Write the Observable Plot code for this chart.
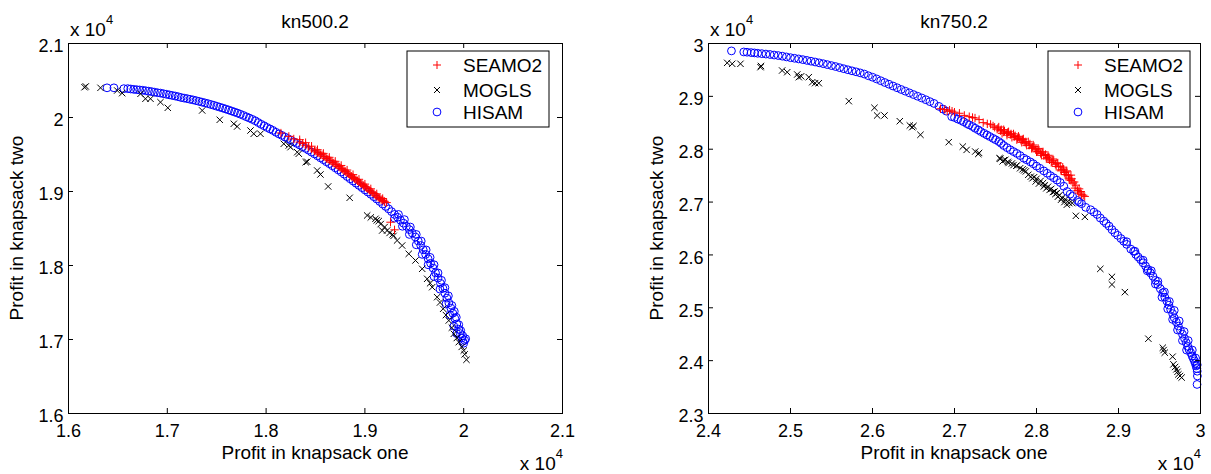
<!DOCTYPE html>
<html>
<head>
<meta charset="utf-8">
<script src="https://cdn.jsdelivr.net/npm/d3@7"></script>
<script src="https://cdn.jsdelivr.net/npm/@observablehq/plot@0.6"></script>
<style>
  html, body { margin: 0; padding: 0; background: #fff; }
  #wrap { position: relative; width: 1211px; height: 474px; background: #fff; overflow: hidden; }
  .panel { position: absolute; top: 0; }
</style>
</head>
<body>
<div id="wrap">
  <div class="panel" id="left" style="left:0px"></div>
  <div class="panel" id="right" style="left:605px"></div>
</div>
<script>
// ---------- tick values ----------
const ticksX500 = [16000, 17000, 18000, 19000, 20000, 21000];
const ticksY500 = [16000, 17000, 18000, 19000, 20000, 21000];
const ticksX750 = [24000, 25000, 26000, 27000, 28000, 29000, 30000];
const ticksY750 = [23000, 24000, 25000, 26000, 27000, 28000, 29000, 30000];

const seriesNames = ["SEAMO2", "MOGLS", "HISAM"];
const panelTitles = ["kn500.2", "kn750.2"];

// ---------- kn500.2 data [profit knapsack one, profit knapsack two] ----------
const kn500_SEAMO2 = [
[18150,19790],[18230,19745],[18280,19710],[18340,19668],[18340,19700],[18370,19650],[18400,19625],[18400,19660],
[18430,19600],[18460,19575],[18460,19612],[18490,19550],[18520,19525],[18520,19565],[18550,19498],[18580,19475],
[18580,19515],[18610,19446],[18640,19422],[18640,19462],[18670,19392],[18700,19368],[18700,19408],[18730,19338],
[18760,19312],[18760,19352],[18790,19280],[18820,19250],[18820,19290],[18850,19222],[18880,19190],[18880,19228],
[18910,19160],[18940,19128],[18940,19165],[18970,19098],[19000,19066],[19000,19100],[19030,19036],[19060,19004],
[19060,19036],[19090,18972],[19120,18938],[19120,18968],[19150,18910],[19180,18880],[19180,18905],[19200,18860],
[19220,18850],[19259,18585],[19300,18482],
[18505,19545],[18535,19520],[18565,19495],[18595,19470],[18625,19440],[18655,19415],[18685,19385],[18715,19360],
[18745,19330],[18775,19300],[18805,19270],[18835,19240],[18865,19205],[18895,19175],[18925,19145],[18955,19112],
[18985,19080],[19015,19050],[19045,19015],[19075,18985],[19105,18950],[19135,18920],[19165,18890],[19195,18870]
];
const kn500_MOGLS = [
[16162,20409],[16175,20420],[16324,20401],[16493,20365],[16543,20329],[16729,20320],[16779,20253],[16830,20253],
[16931,20207],[17005,20131],[17353,20095],[17531,19969],[17673,19915],[17707,19878],[17842,19824],[17875,19780],
[17943,19780],[18179,19645],[18230,19622],[18247,19599],[18315,19531],[18331,19510],[18401,19396],[18416,19402],
[18517,19284],[18550,19230],[18628,19068],[18846,18915],[19023,18676],[19060,18650],[19107,18631],[19120,18610],
[19140,18600],[19160,18560],[19175,18473],[19200,18520],[19225,18473],[19250,18440],[19280,18420],[19290,18400],
[19326,18338],[19377,18270],[19444,18158],[19512,18068],[19580,17955],[19630,17820],[19660,17760],[19681,17707],
[19731,17572],[19760,17500],[19792,17415],[19820,17330],[19849,17257],[19880,17160],[19900,17077],[19930,17020],
[19950,16964],[19980,16900],[20001,16851],[20010,16800],[20028,16726]
];
const kn500_HISAM = [
[16390,20401],[16460,20401],[16560,20390],[16600,20390],[16630,20385],[16660,20380],[16690,20376],[16720,20372],
[16750,20368],[16780,20362],[16810,20356],[16840,20350],[16870,20342],[16900,20335],[16930,20330],[16960,20322],
[16990,20314],[17020,20306],[17050,20298],[17080,20290],[17110,20281],[17140,20270],[17170,20262],[17200,20255],
[17230,20246],[17260,20238],[17290,20228],[17320,20218],[17350,20208],[17380,20198],[17410,20188],[17440,20176],
[17470,20165],[17500,20152],[17530,20140],[17560,20128],[17590,20115],[17620,20102],[17650,20088],[17680,20074],
[17710,20060],[17740,20044],[17770,20028],[17800,20010],[17830,19993],[17860,19975],[17890,19956],[17920,19932],
[17950,19908],[17980,19888],[18010,19865],[18040,19845],[18070,19825],[18100,19800],[18130,19778],[18160,19758],
[18190,19736],[18220,19715],[18250,19695],[18280,19672],[18310,19650],[18340,19628],[18370,19605],[18400,19582],
[18430,19558],[18460,19532],[18490,19508],[18520,19482],[18550,19455],[18580,19430],[18610,19402],[18640,19376],
[18670,19348],[18700,19320],[18730,19292],[18760,19264],[18790,19234],[18820,19202],[18850,19172],[18880,19142],
[18910,19112],[18940,19082],[18970,19052],[19000,19022],[19030,18992],[19060,18962],[19090,18930],[19120,18898],
[19150,18865],[19180,18830],[19210,18798],[19240,18765],[19270,18728],[19300,18690],[19330,18652],[19360,18612],
[19390,18572],[19420,18530],[19450,18485],[19480,18438],[19510,18385],[19540,18330],[19565,18270],[19590,18212],
[19615,18150],[19640,18090],[19665,18030],[19690,17965],[19715,17900],[19740,17830],[19765,17760],[19790,17690],
[19810,17625],[19830,17560],[19850,17495],[19870,17425],[19890,17355],[19910,17285],[19930,17210],[19950,17140],
[19965,17080],[19980,17020],[19990,16975],[20000,16950],
[19340,18690],[19400,18620],[19460,18520],[19520,18420],[19570,18330],[19620,18210],[19660,18110],[19700,18010],
[19740,17900],[19775,17800],[19810,17700],[19845,17590],[19880,17460],[19905,17380],[19925,17300],[19950,17200],
[19970,17120],[19990,17050],[20010,16990],[20020,17010],
[19300,18640],[19380,18530],[19450,18420],[19520,18280],[19580,18150],[19640,18010],[19700,17850],[19760,17680],
[19820,17480],[19860,17330],[19900,17180],[19930,17080]
];

// ---------- kn750.2 data ----------
const kn750_SEAMO2 = [
[26829,28765],[26880,28750],[26911,28720],[26940,28740],[26970,28720],[27000,28700],[27060,28680],[27120,28640],
[27180,28616],[27220,28600],[27250,28590],[27300,28560],[27350,28503],[27400,28480],[27440,28470],[27470,28440],
[27490,28415],
[27520,28380],[27560,28350],[27600,28325],[27640,28300],[27680,28275],[27729,28239],[27770,28205],[27810,28170],
[27850,28135],[27872,28113],[27910,28075],[27950,28035],[27990,27990],[28015,27956],[28050,27920],[28090,27880],
[28130,27840],[28158,27799],[28190,27760],[28230,27715],[28270,27670],[28301,27610],[28340,27560],[28370,27515],
[28397,27453],[28420,27410],[28445,27358],[28469,27264],[28500,27220],[28516,27170],[28550,27140],[28588,27107],
[27540,28420],[27600,28370],[27660,28330],[27720,28290],[27780,28245],[27840,28195],[27900,28140],[27960,28080],
[28020,28015],[28080,27950],[28140,27885],[28200,27815],[28260,27740],[28320,27660],[28370,27590],[28420,27510],
[27580,28300],[27640,28265],[27700,28225],[27760,28180],[27820,28130],[27880,28075],[27940,28015],[28000,27950],
[28060,27885],[28120,27820],[28180,27750],[28240,27675],[28300,27590],[28350,27520],[28400,27420],
[27530,28400],[27570,28370],[27610,28345],[27650,28318],[27690,28290],[27740,28255],[27790,28215],[27830,28180],
[27870,28140],[27920,28100],[27970,28050],[28030,27985],[28070,27945],[28110,27900],[28150,27855],[28210,27790],
[28250,27735],[28290,27680],[28330,27620],[28360,27570],[28390,27500],[28430,27440],[28460,27380],[28480,27320],
[28520,27250],[28540,27200],[28570,27130]
];
const kn750_MOGLS = [
[24228,29634],[24289,29616],[24390,29616],[24634,29552],[24640,29575],[24898,29489],[24960,29457],[25082,29414],
[25101,29363],[25130,29380],[25223,29363],[25265,29268],[25300,29250],[25345,29249],[25711,28909],[26024,28784],
[26057,28638],[26146,28638],[26333,28530],[26455,28449],[26484,28417],[26500,28440],[26585,28273],[26930,28133],
[27101,28050],[27148,27987],[27253,27956],[27290,27910],[27300,27930],[27548,27830],[27560,27820],[27587,27770],
[27600,27790],[27620,27800],[27650,27760],[27660,27740],[27700,27730],[27720,27700],[27753,27686],[27760,27690],
[27800,27640],[27830,27620],[27850,27600],[27870,27580],[27900,27516],[27930,27480],[27950,27450],[27970,27470],
[27990,27390],[28000,27440],[28030,27350],[28050,27400],[28080,27360],[28090,27296],[28100,27320],[28120,27260],
[28140,27290],[28160,27230],[28180,27250],[28200,27190],[28220,27200],[28230,27152],[28250,27170],[28260,27100],
[28280,27130],[28300,27045],[28310,27080],[28340,27000],[28350,27050],[28370,26950],[28380,27010],[28400,26980],
[28436,26981],[28480,26740],[28590,26720],[28778,25736],[28920,25585],[28920,25440],[29078,25296],[29364,24415],
[29540,24245],[29550,24200],[29564,24150],[29660,24075],[29670,23930],[29690,23880],[29707,23836],[29720,23790],
[29730,23740],[29750,23710],[29770,23680]
];
const kn750_HISAM = [
[24280,29860],[24430,29840],[24470,29835],[24520,29828],[24560,29822],[24600,29815],[24650,29808],[24700,29800],
[24750,29792],[24800,29782],[24850,29772],[24900,29760],[24950,29746],[25000,29732],[25050,29720],[25100,29708],
[25150,29695],[25200,29680],[25250,29665],[25300,29650],[25350,29634],[25400,29618],[25450,29600],[25500,29582],
[25550,29564],[25600,29543],[25650,29523],[25700,29503],[25750,29483],[25800,29464],[25850,29444],[25900,29422],
[25950,29390],[26000,29362],[26050,29330],[26100,29296],[26150,29262],[26200,29230],[26250,29196],[26300,29163],
[26350,29130],[26400,29098],[26450,29066],[26500,29034],[26550,29002],[26600,28970],[26650,28936],[26700,28900],
[26750,28866],[26810,28810],[26860,28760],[26900,28720],[26966,28616],[27000,28600],[27040,28570],[27080,28545],
[27110,28520],[27150,28485],[27180,28460],[27220,28430],[27252,28396],[27290,28365],[27320,28335],[27360,28300],
[27395,28270],[27430,28240],[27470,28205],[27500,28180],[27540,28145],[27570,28110],[27600,28070],[27640,28030],
[27680,27990],[27720,27955],[27760,27920],[27800,27880],[27845,27830],[27880,27800],[27925,27760],[27960,27725],
[28000,27680],[28040,27640],[28089,27590],[28130,27545],[28170,27500],[28210,27460],[28250,27415],[28290,27370],
[28333,27300],[28373,27200],[28410,27150],[28440,27110],[28500,27030],[28520,27000],[28550,26970],[28600,26900],
[28660,26855],[28700,26810],[28740,26765],[28778,26698],[28820,26640],[28850,26595],[28885,26545],[28920,26478],
[28955,26420],[28990,26370],[29030,26310],[29064,26258],[29100,26200],[29150,26110],[29184,26069],[29210,26010],
[29240,25960],[29270,25910],[29300,25850],[29330,25790],[29360,25725],[29390,25660],[29420,25597],[29450,25520],
[29480,25440],[29510,25360],[29540,25283],[29565,25200],[29590,25125],[29615,25050],[29636,24969],[29660,24890],
[29680,24810],[29705,24730],[29730,24654],[29755,24575],[29780,24500],[29805,24420],[29826,24340],[29845,24270],
[29860,24210],[29880,24150],[29898,24088],[29912,24040],[29925,23995],[29936,23950],[29946,23900],[29955,23850],
[29960,23800],[29962,23710],[29958,23550],
[29100,26250],[29200,26070],[29300,25900],[29400,25700],[29480,25500],[29560,25300],[29620,25120],[29680,24950],
[29740,24750],[29800,24550],[29850,24380],[29900,24200],[29940,24050],[29960,23920],
[29350,25700],[29450,25450],[29530,25200],[29600,24980],[29660,24780],[29720,24580],[29780,24380],[29830,24200]
];

// ---------- styling ----------
const FONT = "'Liberation Sans', Arial, Helvetica, sans-serif";
const COLORS = {SEAMO2: "#ff0000", MOGLS: "#000000", HISAM: "#0000ff"};
const SYMBOLS = {SEAMO2: "plus", MOGLS: "times", HISAM: "circle"};
const RADII = {SEAMO2: 2.8, MOGLS: 3.0, HISAM: 3.9};
const fmt = d => String(+(d / 1e4).toFixed(2));
const TICK = 5;

function panel(el, cfg) {
  const W = cfg.width, H = 474, MT = 43, MB = 61;
  const fh = H - MT - MB, fw = W - cfg.ml - cfg.mr;
  const dots = (data, name) => Plot.dot(data, {
    x: d => d[0], y: d => d[1], symbol: SYMBOLS[name], r: RADII[name],
    stroke: COLORS[name], strokeWidth: 1, fill: "none"
  });
  const svg = Plot.plot({
    width: W, height: H,
    marginLeft: cfg.ml, marginRight: cfg.mr, marginTop: MT, marginBottom: MB,
    x: {domain: cfg.xDomain},
    y: {domain: cfg.yDomain},
    style: {fontFamily: FONT, fontSize: "18px", background: "white", color: "black", overflow: "visible"},
    marks: [
      dots(cfg.data.HISAM, "HISAM"),
      dots(cfg.data.MOGLS, "MOGLS"),
      dots(cfg.data.SEAMO2, "SEAMO2"),
      // inward tick marks on all four sides
      Plot.tickX(cfg.xTicks, {x: d => d, insetTop: fh - TICK, stroke: "black"}),
      Plot.tickX(cfg.xTicks, {x: d => d, insetBottom: fh - TICK, stroke: "black"}),
      Plot.tickY(cfg.yTicks, {y: d => d, insetRight: fw - TICK, stroke: "black"}),
      Plot.tickY(cfg.yTicks, {y: d => d, insetLeft: fw - TICK, stroke: "black"}),
      Plot.axisX(cfg.xTicks, {anchor: "bottom", tickSize: 0, tickPadding: 11, tickFormat: fmt, label: null}),
      Plot.axisY(cfg.yTicks, {anchor: "left", tickSize: 0, tickPadding: 5, dy: 3, tickFormat: fmt, label: null}),
      Plot.frame({stroke: "black", strokeWidth: 1})
    ]
  });
  const s = d3.select(svg);
  const fx0 = cfg.ml, fx1 = W - cfg.mr, fcx = (fx0 + fx1) / 2;
  const txt = (x, y, str, anchor) => s.append("text").attr("x", x).attr("y", y)
      .attr("text-anchor", anchor).style("font-size", "19px").style("font-family", FONT)
      .attr("fill", "black").text(str);
  // title
  txt(fcx, 28, cfg.title, "middle");
  // exponent labels
  const expo = (x, y, anchor) => {
    const t = s.append("text").attr("x", x).attr("y", y).attr("text-anchor", anchor)
      .style("font-size", "19px").style("font-family", FONT).attr("fill", "black");
    t.append("tspan").text("x 10");
    t.append("tspan").attr("dy", -12).style("font-size", "13px").text("4");
  };
  expo(fx0 + 2, 36, "start");
  expo(fx1 + 1, 470, "end");
  // axis labels
  txt(fcx, 459, "Profit in knapsack one", "middle");
  s.append("text").attr("transform", `translate(${cfg.ylabX},228) rotate(-90)`).attr("text-anchor", "middle")
    .style("font-size", "19px").style("font-family", FONT).attr("fill", "black").text("Profit in knapsack two");
  // legend
  const lx = cfg.legendX, ly = 51, lw = 142, lh = 76;
  const g = s.append("g");
  g.append("rect").attr("x", lx).attr("y", ly).attr("width", lw).attr("height", lh)
    .attr("fill", "white").attr("stroke", "black").attr("stroke-width", 1);
  const rowsY = [65, 90, 112];
  const symPath = {
    SEAMO2: "M-4,0H4M0,-4V4",
    MOGLS: "M-3,-3L3,3M-3,3L3,-3",
    HISAM: d3.symbol(d3.symbolCircle, Math.PI * 3.9 * 3.9)()
  };
  seriesNames.forEach((name, i) => {
    g.append("path").attr("d", symPath[name]).attr("transform", `translate(${lx + 30},${rowsY[i]})`)
      .attr("fill", "none").attr("stroke", COLORS[name]).attr("stroke-width", 1);
    g.append("text").attr("x", lx + 56).attr("y", rowsY[i] + 7).attr("text-anchor", "start")
      .style("font-size", "19px").style("font-family", FONT).attr("fill", "black").text(name);
  });
  el.appendChild(svg);
}

panel(document.getElementById("left"), {
  width: 605, ml: 68, mr: 43, title: panelTitles[0],
  xDomain: [16000, 21000], yDomain: [16000, 21000], xTicks: ticksX500, yTicks: ticksY500,
  data: {SEAMO2: kn500_SEAMO2, MOGLS: kn500_MOGLS, HISAM: kn500_HISAM},
  ylabX: 23, legendX: 407
});
panel(document.getElementById("right"), {
  width: 606, ml: 103, mr: 11, title: panelTitles[1],
  xDomain: [24000, 30000], yDomain: [23000, 30000], xTicks: ticksX750, yTicks: ticksY750,
  data: {SEAMO2: kn750_SEAMO2, MOGLS: kn750_MOGLS, HISAM: kn750_HISAM},
  ylabX: 58, legendX: 443
});
</script>
</body>
</html>
